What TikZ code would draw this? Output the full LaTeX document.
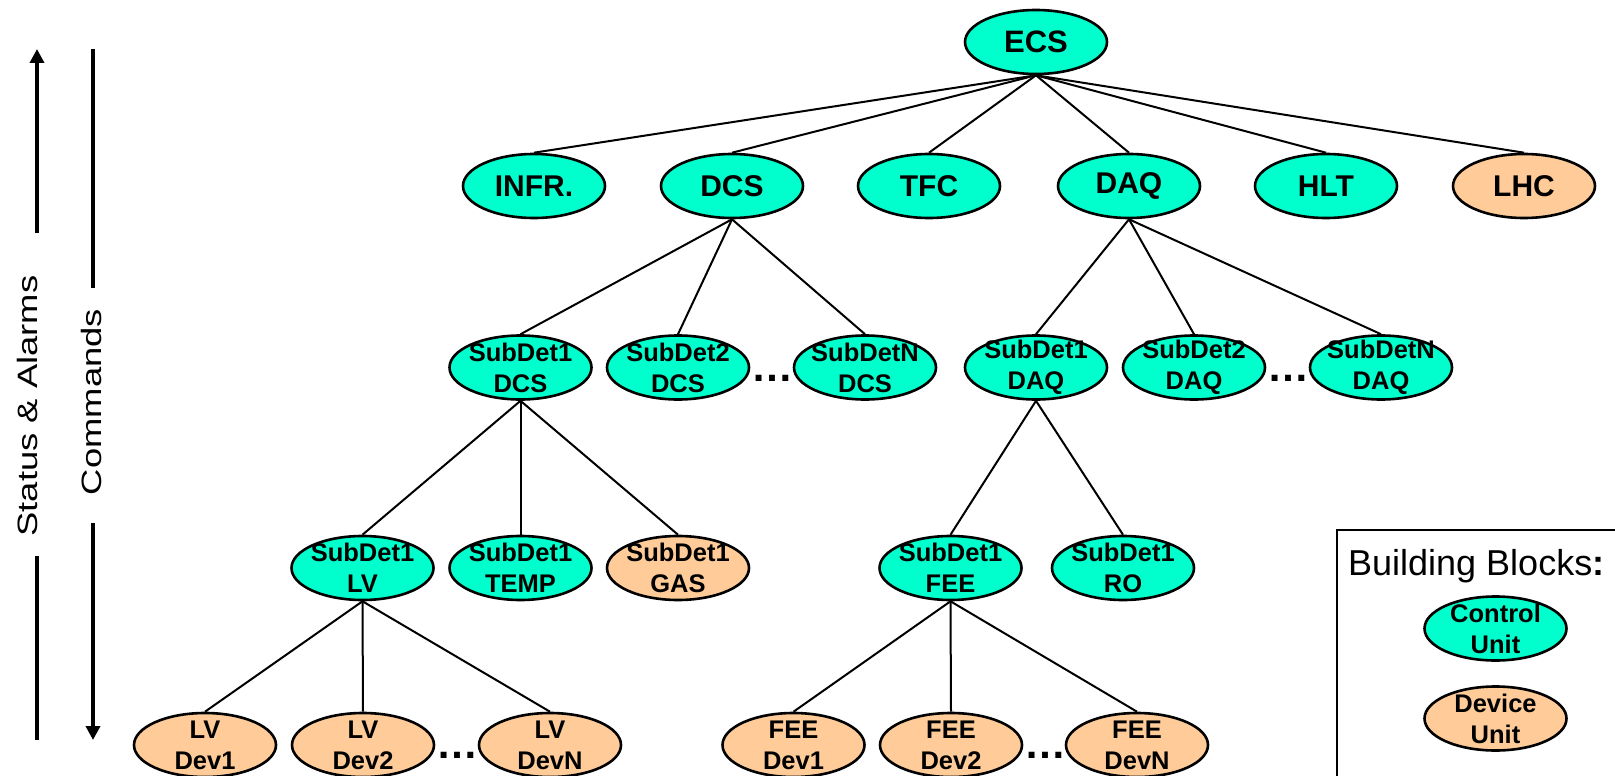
\documentclass[tikz,border=0pt]{standalone}
\usepackage{fontspec}
\setmainfont{Liberation Sans}
\usetikzlibrary{shapes.geometric,arrows.meta}
\definecolor{cuc}{RGB}{0,255,204}
\definecolor{duc}{RGB}{255,204,153}
\begin{document}
\begin{tikzpicture}[x=1pt,y=-1pt,
  unit/.style={ellipse, draw=black, line width=2.6pt, minimum width=142pt, minimum height=64pt, inner xsep=-25pt, inner ysep=-20pt, align=center},
  cu/.style={unit, fill=cuc},
  du/.style={unit, fill=duc},
  big/.style={font=\fontsize{31}{36}\selectfont\bfseries},
  mid/.style={font=\fontsize{30}{36}\selectfont\bfseries},
  two/.style={font=\fontsize{25.5}{31}\selectfont\bfseries},
  edge/.style={line width=2pt},
  dots/.style={font=\fontsize{42}{46}\selectfont\bfseries, inner sep=0pt, anchor=base},
  side/.style={rotate=90, font=\fontsize{28}{32}\selectfont, inner sep=0pt},
  bar/.style={line width=3.5pt},
  tip/.style={-{Triangle[width=14pt,length=14pt]}}
]
\useasboundingbox (0,0) rectangle (1615,776);
\clip (0,0) rectangle (1615,776);

% level 0
\node[cu,big] (ecs) at (1036,42) {ECS};
% level 1
\node[cu,mid] (infr) at (534,186) {INFR.};
\node[cu,mid] (dcs) at (732,186) {DCS};
\node[cu,mid] (tfc) at (929,186) {TFC};
\node[cu,mid] (daq) at (1129,186) {DAQ};
\node[cu,mid] (hlt) at (1326,186) {HLT};
\node[du,mid] (lhc) at (1524,186) {LHC};
% level 2
\node[cu,two] (sd1dcs) at (520.5,367.5) {SubDet1\\DCS};
\node[cu,two] (sd2dcs) at (678,367.5) {SubDet2\\DCS};
\node[cu,two] (sdndcs) at (865,367.5) {SubDetN\\DCS};
\node[cu,two] (sd1daq) at (1036,367.5) {SubDet1\\DAQ};
\node[cu,two] (sd2daq) at (1194,367.5) {SubDet2\\DAQ};
\node[cu,two] (sdndaq) at (1381,367.5) {SubDetN\\DAQ};
% level 3
\node[cu,two] (lv) at (362.5,568) {SubDet1\\LV};
\node[cu,two] (temp) at (520.5,568) {SubDet1\\TEMP};
\node[du,two] (gas) at (678,568) {SubDet1\\GAS};
\node[cu,two] (fee) at (950.5,568) {SubDet1\\FEE};
\node[cu,two] (ro) at (1123,568) {SubDet1\\RO};
% level 4
\node[du,two] (lv1) at (205,745) {LV\\Dev1};
\node[du,two] (lv2) at (363,745) {LV\\Dev2};
\node[du,two] (lvn) at (550,745) {LV\\DevN};
\node[du,two] (fee1) at (793.5,745) {FEE\\Dev1};
\node[du,two] (fee2) at (951,745) {FEE\\Dev2};
\node[du,two] (feen) at (1137,745) {FEE\\DevN};

% dots
\node[dots] (d1) at (772,381) {…};
\node[dots] (d2) at (1288,381) {…};
\node[dots] (d3) at (457,758) {…};
\node[dots] (d4) at (1045,758) {…};

% edges
\foreach \c in {infr,dcs,tfc,daq,hlt,lhc} \draw[edge] (ecs.south) -- (\c.north);
\foreach \c in {sd1dcs,sd2dcs,sdndcs} \draw[edge] (dcs.south) -- (\c.north);
\foreach \c in {sd1daq,sd2daq,sdndaq} \draw[edge] (daq.south) -- (\c.north);
\foreach \c in {lv,temp,gas} \draw[edge] (sd1dcs.south) -- (\c.north);
\foreach \c in {fee,ro} \draw[edge] (sd1daq.south) -- (\c.north);
\foreach \c in {lv1,lv2,lvn} \draw[edge] (lv.south) -- (\c.north);
\foreach \c in {fee1,fee2,feen} \draw[edge] (fee.south) -- (\c.north);

% legend
\draw[line width=2.5pt] (1337,530) rectangle (1640,800);
\node[anchor=base west, font=\fontsize{36}{40}\selectfont, inner sep=0pt] (bb) at (1348,575) {Building Blocks\textbf{:}};
\node[cu,two] (lcu) at (1495.5,628.5) {Control\\Unit};
\node[du,two] (ldu) at (1495.5,718.5) {Device\\Unit};

% side arrows
\coordinate (s-top) at (37,49);
\coordinate (s-a) at (37,233);
\coordinate (s-b) at (37,556);
\coordinate (s-bot) at (37,740);
\draw[bar,tip] (s-a) -- (s-top);
\draw[bar] (s-b) -- (s-bot);
\node[side] (status) at (27,406) {\scalebox{1.3}[1]{Status \& Alarms}};
\coordinate (c-top) at (93,49);
\coordinate (c-a) at (93,288);
\coordinate (c-b) at (93,523);
\coordinate (c-bot) at (93,740);
\draw[bar] (c-top) -- (c-a);
\draw[bar,tip] (c-b) -- (c-bot);
\node[side] (cmd) at (91,402) {\scalebox{1.3}[1]{Commands}};
\end{tikzpicture}
\end{document}
